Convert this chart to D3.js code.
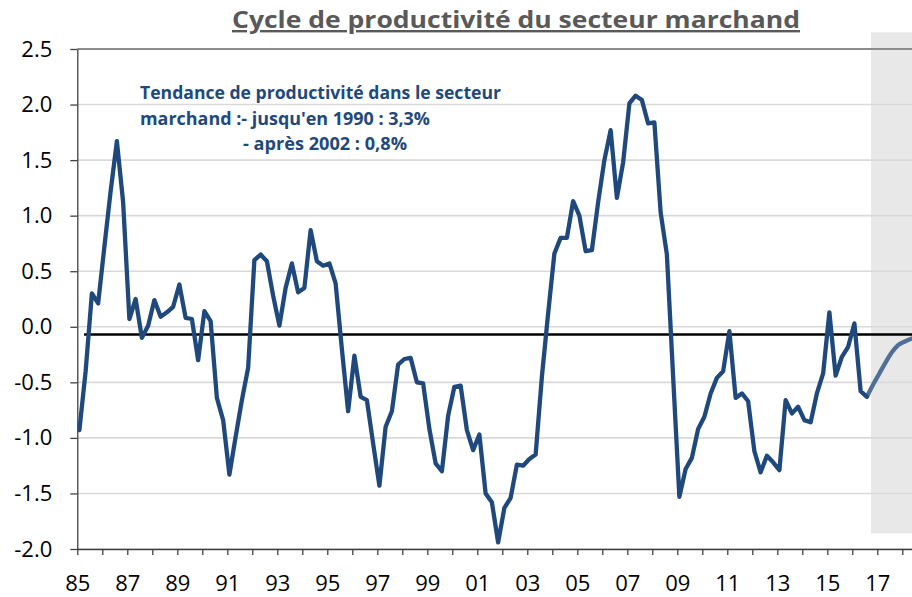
<!DOCTYPE html>
<html>
<head>
<meta charset="utf-8">
<script src="https://cdn.jsdelivr.net/npm/d3@7"></script>
<style>
  body { margin: 0; background: #fff; }
  svg { display: block; }
  .axis text { font-family: "Open Sans", sans-serif; font-size: 22px; fill: #000; }
  .axis path, .axis line { stroke: #404040; stroke-width: 1.3px; }
</style>
</head>
<body>
<div id="chart"></div>
<script>
// Data
const chartTitle = 'Cycle de productivité du secteur marchand';
const noteLines = [
    'Tendance de productivité dans le secteur',
    'marchand :- jusqu\'en 1990 : 3,3%',
    '- après 2002 : 0,8%'
];
const startYear = 1985;          // 1er trimestre 1985
const yTicks = [-2.0, -1.5, -1.0, -0.5, 0.0, 0.5, 1.0, 1.5, 2.0, 2.5];
const xTickYears = d3.range(1985, 2019);
const xTickLabels = ['85', '87', '89', '91', '93', '95', '97', '99', '01', '03', '05', '07', '09', '11', '13', '15', '17'];

// quarterly cycle, 1985T1 -> 2016T3
const cycle = [
    -0.93, -0.40, 0.30, 0.21, 0.72, 1.22, 1.67, 1.12, 0.07, 0.25,
    -0.10, 0.01, 0.24, 0.09, 0.13, 0.18, 0.38, 0.08, 0.07, -0.30,
    0.14, 0.05, -0.64, -0.84, -1.33, -0.99, -0.66, -0.37, 0.60, 0.65,
    0.59, 0.28, 0.01, 0.35, 0.57, 0.31, 0.35, 0.87, 0.59, 0.55,
    0.57, 0.39, -0.20, -0.76, -0.26, -0.63, -0.66, -1.05, -1.43, -0.90,
    -0.76, -0.34, -0.29, -0.28, -0.50, -0.51, -0.92, -1.23, -1.30, -0.80,
    -0.54, -0.53, -0.93, -1.11, -0.97, -1.50, -1.58, -1.94, -1.63, -1.54,
    -1.24, -1.25, -1.19, -1.15, -0.45, 0.12, 0.66, 0.80, 0.80, 1.13,
    1.00, 0.68, 0.69, 1.12, 1.50, 1.77, 1.16, 1.48, 2.01, 2.08,
    2.04, 1.83, 1.84, 1.03, 0.65, -0.45, -1.53, -1.28, -1.18, -0.92,
    -0.81, -0.60, -0.46, -0.40, -0.04, -0.64, -0.60, -0.67, -1.12, -1.31,
    -1.16, -1.22, -1.29, -0.66, -0.78, -0.72, -0.84, -0.86, -0.60, -0.42,
    0.13, -0.44, -0.27, -0.18, 0.03, -0.58, -0.63
];
// projection, from 2016T3
const projection = [-0.63, -0.52, -0.42, -0.32, -0.23, -0.165, -0.135, -0.11, -0.09];
const projectionStart = 126;

const meanLevel = -0.07;         // ligne noire
const meanStartYear = 1985.27;
const shadeStartYear = 2016.75;
const shadeTop = 2.65;
const shadeBottom = -1.86;

// Layout
const width = 912;
const height = 597;
const margin = { top: 49, right: 0, bottom: 48, left: 77.3 };
const lineColor = '#1f497d';
const projColor = '#4f6f96';

const svg = d3.select('#chart')
    .append('svg')
    .attr('width', width)
    .attr('height', height);

// Scales
const x = d3.scaleLinear()
    .domain([startYear, startYear + (width - margin.left) / 25])
    .range([margin.left, width]);

const y = d3.scaleLinear()
    .domain([-2.0, 2.5])
    .range([height - margin.bottom, margin.top]);

const quarterTime = i => startYear + (i + 1 / 3) / 4;

// Shaded forecast zone
svg.append('rect')
    .attr('x', x(shadeStartYear))
    .attr('y', y(shadeTop))
    .attr('width', x.range()[1] - x(shadeStartYear))
    .attr('height', y(shadeBottom) - y(shadeTop))
    .attr('fill', '#e8e8e8');

// Gridlines
svg.append('g')
    .selectAll('line')
    .data(yTicks.filter(d => d < 2.5))
    .join('line')
    .attr('x1', margin.left)
    .attr('x2', width)
    .attr('y1', d => y(d))
    .attr('y2', d => y(d))
    .attr('stroke', '#d9d9d9')
    .attr('stroke-width', 1.6);

// top border at 2.5
svg.append('line')
    .attr('x1', margin.left)
    .attr('x2', width)
    .attr('y1', y(2.5))
    .attr('y2', y(2.5))
    .attr('stroke', '#8c8c8c')
    .attr('stroke-width', 2);

// Axes
const yAxis = d3.axisLeft(y)
    .tickValues(yTicks)
    .tickFormat(d => d.toFixed(1))
    .tickSizeInner(7)
    .tickSizeOuter(0)
    .tickPadding(18);

svg.append('g')
    .attr('class', 'y axis')
    .attr('transform', `translate(${margin.left},0)`)
    .call(yAxis);

const xAxis = d3.axisBottom(x)
    .tickValues(xTickYears)
    .tickFormat(d => (d - startYear) % 2 === 0 ? xTickLabels[(d - startYear) / 2] : '')
    .tickSizeInner(6)
    .tickSizeOuter(0)
    .tickPadding(20);

const xAxisDraw = svg.append('g')
    .attr('class', 'x axis')
    .attr('transform', `translate(0,${y(-2.0)})`)
    .call(xAxis);

// baseline of x labels
xAxisDraw.selectAll('text')
    .attr('y', 591 - y(-2.0))
    .attr('dy', 0);

// Mean line
svg.append('line')
    .attr('x1', x(meanStartYear))
    .attr('x2', width)
    .attr('y1', y(meanLevel))
    .attr('y2', y(meanLevel))
    .attr('stroke', '#000')
    .attr('stroke-width', 2.5);

// Lines
const line = d3.line()
    .x(d => x(d.t))
    .y(d => y(d.v));

const cycleData = cycle.map((v, i) => ({ t: quarterTime(i), v }));
const projData = projection.map((v, i) => ({ t: quarterTime(projectionStart + i), v }));

svg.append('path')
    .datum(projData)
    .attr('fill', 'none')
    .attr('stroke', projColor)
    .attr('stroke-width', 4.3)
    .attr('stroke-linejoin', 'round')
    .attr('d', line.curve(d3.curveMonotoneX));

svg.append('path')
    .datum(cycleData)
    .attr('fill', 'none')
    .attr('stroke', lineColor)
    .attr('stroke-width', 4.3)
    .attr('stroke-linejoin', 'round')
    .attr('stroke-linecap', 'round')
    .attr('d', line.curve(d3.curveLinear));

// Title
svg.append('text')
    .attr('x', 232)
    .attr('y', 28)
    .attr('textLength', 568)
    .attr('lengthAdjust', 'spacingAndGlyphs')
    .attr('font-family', '"Open Sans", sans-serif')
    .attr('font-weight', 'bold')
    .attr('font-size', 24)
    .attr('fill', '#595959')
    .attr('text-decoration', 'underline')
    .text(chartTitle);

// Note
const noteX = [140, 140, 243];
const noteW = [361, 290, 164];
const note = svg.append('g')
    .attr('font-family', '"Open Sans", sans-serif')
    .attr('font-weight', 'bold')
    .attr('font-size', 18.5)
    .attr('fill', lineColor);

note.selectAll('text')
    .data(noteLines)
    .join('text')
    .attr('x', (d, i) => noteX[i])
    .attr('y', (d, i) => 99 + i * 25.5)
    .attr('textLength', (d, i) => noteW[i])
    .attr('lengthAdjust', 'spacingAndGlyphs')
    .text(d => d);
</script>
</body>
</html>
